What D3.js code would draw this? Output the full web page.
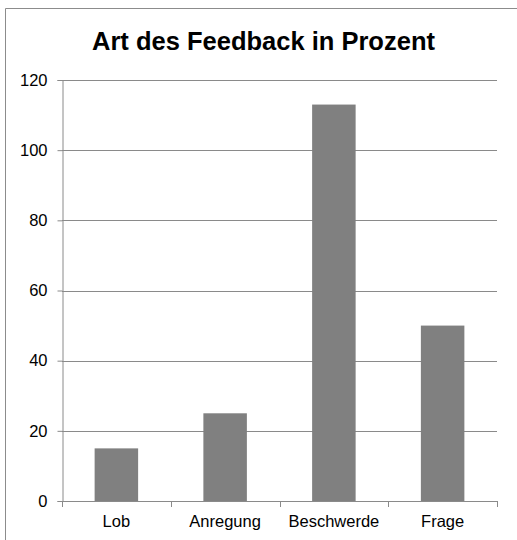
<!DOCTYPE html>
<html>
<head>
<meta charset="utf-8">
<script src="https://cdn.jsdelivr.net/npm/d3@7"></script>
<style>
  body { margin: 0; background: #fff; }
  text { font-family: "Liberation Sans", Arial, sans-serif; }
</style>
</head>
<body>
<script>
// chart data
const categories = ["Lob", "Anregung", "Beschwerde", "Frage"];
const values = [15, 25, 113, 50];
const yTicks = [0, 20, 40, 60, 80, 100, 120];
const title = "Art des Feedback in Prozent";

const width = 517, height = 540;
const margin = {left: 62, right: 20, top: 80, bottom: 39};

const svg = d3.select("body").append("svg")
  .attr("width", width)
  .attr("height", height);

// outer frame (clipped at right / bottom like the original)
svg.append("path")
  .attr("d", `M5.5,${height} V8.5 H${width}`)
  .attr("fill", "none")
  .attr("stroke", "#8c8c8c")
  .attr("stroke-width", 1);

svg.append("text")
  .attr("x", 263.5)
  .attr("y", 50)
  .attr("text-anchor", "middle")
  .attr("font-size", "25.5px")
  .attr("font-weight", "bold")
  .text(title);

const x = d3.scaleBand()
  .domain(categories)
  .range([margin.left, width - margin.right])
  .paddingInner(0.6)
  .paddingOuter(0.3);

const y = d3.scaleLinear()
  .domain([0, 120])
  .range([height - margin.bottom, margin.top]);

// gridlines
svg.append("g")
  .selectAll("line")
  .data(yTicks.filter(d => d > 0))
  .join("line")
  .attr("x1", margin.left)
  .attr("x2", width - margin.right)
  .attr("y1", d => Math.round(y(d)) + 0.5)
  .attr("y2", d => Math.round(y(d)) + 0.5)
  .attr("stroke", "#8a8a8a")
  .attr("stroke-width", 1);

// bars
svg.append("g")
  .selectAll("rect")
  .data(values)
  .join("rect")
  .attr("x", (d, i) => x(categories[i]))
  .attr("y", d => y(d))
  .attr("width", x.bandwidth())
  .attr("height", d => y(0) - y(d))
  .attr("fill", "#808080");

// y axis
const yAxis = svg.append("g")
  .attr("transform", `translate(${margin.left + 0.5},0)`)
  .call(d3.axisLeft(y).tickValues(yTicks).tickSize(5).tickPadding(10));
yAxis.selectAll("path, line").attr("stroke", "#8a8a8a");
yAxis.selectAll("text").attr("font-size", "16.5px").attr("fill", "#000");

// x axis with boundary ticks between categories
const xAxisG = svg.append("g");
xAxisG.append("line")
  .attr("x1", margin.left)
  .attr("x2", width - margin.right)
  .attr("y1", Math.round(y(0)) + 0.5)
  .attr("y2", Math.round(y(0)) + 0.5)
  .attr("stroke", "#8a8a8a");
const bounds = d3.range(categories.length + 1).map(i => margin.left + i * (width - margin.left - margin.right) / categories.length);
xAxisG.selectAll("line.tick")
  .data(bounds)
  .join("line")
  .attr("class", "tick")
  .attr("x1", d => Math.round(d) + 0.5)
  .attr("x2", d => Math.round(d) + 0.5)
  .attr("y1", Math.round(y(0)))
  .attr("y2", Math.round(y(0)) + 6)
  .attr("stroke", "#8a8a8a");
xAxisG.selectAll("text")
  .data(categories)
  .join("text")
  .attr("x", d => x(d) + x.bandwidth() / 2)
  .attr("y", 527)
  .attr("text-anchor", "middle")
  .attr("font-size", "16.5px")
  .text(d => d);
</script>
</body>
</html>
